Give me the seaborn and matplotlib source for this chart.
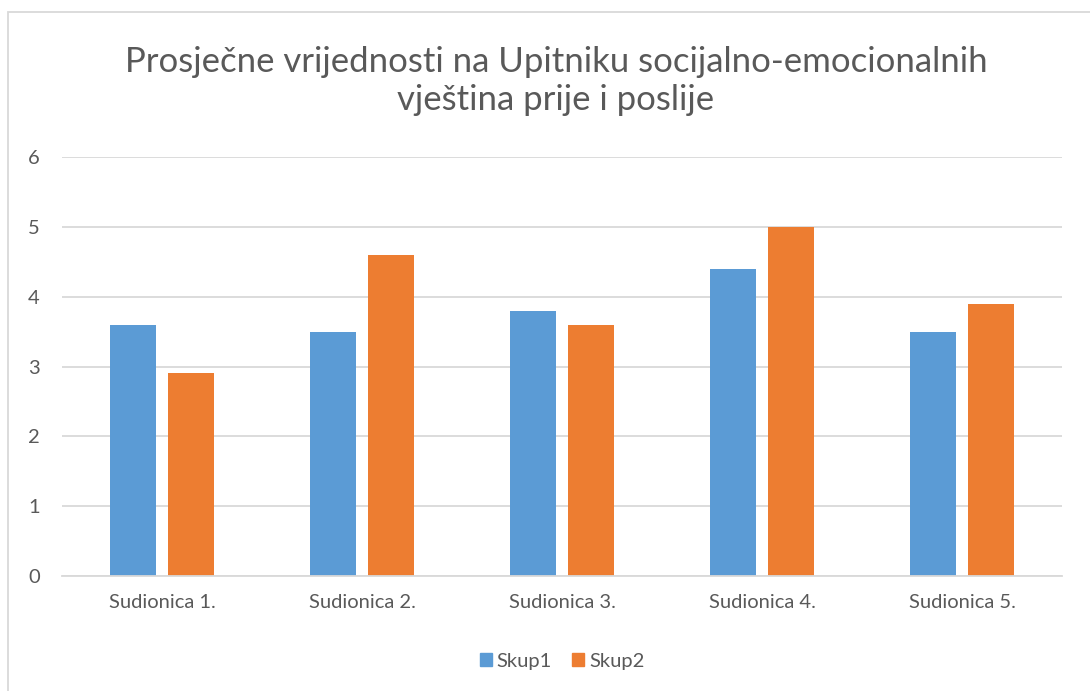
import numpy as np
import pandas as pd
import matplotlib
matplotlib.use("Agg")
import matplotlib.pyplot as plt
import seaborn as sns
from matplotlib.patches import Rectangle

# podaci s grafa
sudionice = ["Sudionica 1.", "Sudionica 2.", "Sudionica 3.", "Sudionica 4.", "Sudionica 5."]
skup1 = [3.6, 3.5, 3.8, 4.4, 3.5]
skup2 = [2.9, 4.6, 3.6, 5.0, 3.9]
serije = ["Skup1", "Skup2"]
boje = ["#5B9BD5", "#ED7D31"]
naslov = "Prosječne vrijednosti na Upitniku socijalno-emocionalnih\nvještina prije i poslije"

df = pd.DataFrame({"sudionica": sudionice * 2,
                   "vrijednost": skup1 + skup2,
                   "skup": ["Skup1"] * len(skup1) + ["Skup2"] * len(skup2)})

sns.set_theme(style="white")
plt.rcParams["font.family"] = ["Lato", "DejaVu Sans"]
siva = "#595959"

W, H = 1090, 691
fig = plt.figure(figsize=(W / 100, H / 100), dpi=100)
ax = fig.add_axes([62 / W, 1 - 576 / H, 1000 / W, 419 / H])

sns.barplot(data=df, x="sudionica", y="vrijednost", hue="skup", hue_order=serije,
            palette=boje, width=0.58, gap=0.207, saturation=1, linewidth=0,
            ax=ax, legend=True)

ax.set_xlim(-0.5, 4.5)
ax.set_ylim(0, 6)
ax.set_yticks(range(0, 7))
ax.yaxis.grid(True, color="#D9D9D9", linewidth=1.3)
ax.set_axisbelow(True)
for s in ["top", "right", "left"]:
    ax.spines[s].set_visible(False)
ax.spines["bottom"].set_color("#D9D9D9")
ax.spines["bottom"].set_linewidth(1.3)
ax.set_xlabel("")
ax.set_ylabel("")
ax.tick_params(axis="both", length=0, colors=siva, labelsize=14.5)
ax.tick_params(axis="x", pad=13)
ax.tick_params(axis="y", pad=16)

ax.get_legend().remove()
handles = [Rectangle((0, 0), 1, 1, color=c) for c in boje]
fig.legend(handles, serije, loc="center", bbox_to_anchor=(562 / W, 1 - 661 / H), ncol=2,
           frameon=False, fontsize=14.5, handlelength=0.6, handleheight=0.6,
           handletextpad=0.25, columnspacing=1.0, labelcolor=siva)

fig.text(556 / W, 1 - 81 / H, naslov, ha="center", va="center", fontsize=25,
         color=siva, linespacing=1.2)

# okvir grafa
fig.patches.append(Rectangle((8 / W, -0.1), 1.2, 1 - 12 / H + 0.1, transform=fig.transFigure,
                             fill=False, edgecolor="#D9D9D9", linewidth=1.3))

fig.savefig("out.png", dpi=100)
